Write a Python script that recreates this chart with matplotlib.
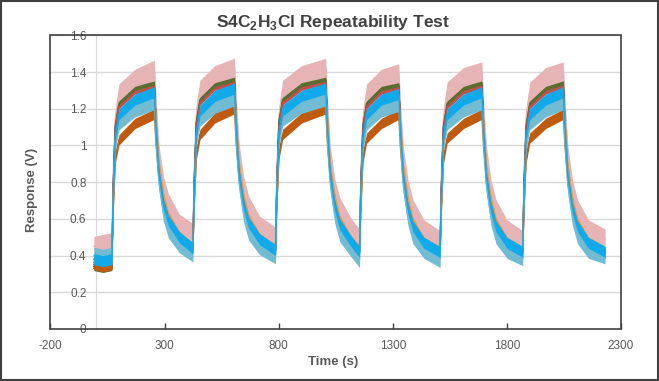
import matplotlib
matplotlib.use("Agg")
import matplotlib.pyplot as plt
from matplotlib.patches import Rectangle

plt.rcParams["font.family"] = ["Liberation Sans Narrow", "Liberation Sans", "DejaVu Sans"]
plt.rcParams["axes.unicode_minus"] = False

# key time points (s): start, then per cycle rise..fall..decay, then end
time_s = [-10, 30,
          69, 75, 84, 100, 170, 255, 263, 275, 295, 317, 365,
          424, 430, 439, 455, 520, 606, 614, 626, 646, 668, 716,
          786, 792, 801, 817, 900, 1006, 1014, 1026, 1046, 1068, 1116,
          1154, 1160, 1169, 1185, 1250, 1326, 1334, 1346, 1366, 1388, 1436,
          1507, 1513, 1522, 1538, 1610, 1690, 1698, 1710, 1730, 1752, 1800,
          1869, 1875, 1884, 1900, 1970, 2047, 2055, 2067, 2087, 2109, 2157,
          2230]

pink = [0.45, 0.46,
        0.47, 0.85, 1.15, 1.28, 1.36, 1.41, 1.20, 0.95, 0.78, 0.68, 0.57,
        0.52, 0.87, 1.17, 1.30, 1.38, 1.42, 1.21, 0.96, 0.78, 0.67, 0.56,
        0.50, 0.86, 1.16, 1.30, 1.38, 1.42, 1.20, 0.94, 0.76, 0.66, 0.55,
        0.49, 0.85, 1.14, 1.28, 1.36, 1.39, 1.18, 0.94, 0.76, 0.65, 0.54,
        0.48, 0.85, 1.15, 1.29, 1.37, 1.40, 1.19, 0.94, 0.76, 0.65, 0.54,
        0.48, 0.85, 1.15, 1.29, 1.37, 1.40, 1.19, 0.94, 0.76, 0.65, 0.54,
        0.49]

purple = [0.34, 0.33,
          0.34, 0.78, 1.10, 1.22, 1.30, 1.33, 1.12, 0.88, 0.71, 0.62, 0.51,
          0.45, 0.80, 1.12, 1.24, 1.32, 1.35, 1.13, 0.88, 0.71, 0.61, 0.50,
          0.44, 0.80, 1.12, 1.24, 1.32, 1.35, 1.12, 0.87, 0.70, 0.60, 0.49,
          0.43, 0.78, 1.10, 1.22, 1.30, 1.32, 1.10, 0.86, 0.69, 0.59, 0.48,
          0.42, 0.78, 1.10, 1.22, 1.30, 1.33, 1.11, 0.86, 0.69, 0.59, 0.48,
          0.42, 0.78, 1.10, 1.22, 1.30, 1.33, 1.11, 0.86, 0.69, 0.59, 0.48,
          0.43]

olive = [0.33, 0.32,
         0.33, 0.78, 1.11, 1.23, 1.31, 1.34, 1.12, 0.87, 0.70, 0.60, 0.50,
         0.44, 0.80, 1.13, 1.25, 1.33, 1.36, 1.13, 0.87, 0.70, 0.60, 0.49,
         0.43, 0.80, 1.13, 1.25, 1.33, 1.36, 1.12, 0.86, 0.69, 0.59, 0.48,
         0.42, 0.78, 1.11, 1.23, 1.31, 1.33, 1.10, 0.85, 0.68, 0.58, 0.47,
         0.42, 0.78, 1.11, 1.23, 1.31, 1.34, 1.11, 0.85, 0.68, 0.58, 0.47,
         0.42, 0.78, 1.11, 1.23, 1.31, 1.34, 1.11, 0.85, 0.68, 0.58, 0.47,
         0.42]

red = [0.36, 0.35,
       0.36, 0.77, 1.09, 1.21, 1.29, 1.32, 1.11, 0.86, 0.69, 0.59, 0.50,
       0.44, 0.79, 1.11, 1.23, 1.31, 1.34, 1.12, 0.86, 0.69, 0.59, 0.49,
       0.43, 0.79, 1.11, 1.23, 1.31, 1.34, 1.11, 0.85, 0.68, 0.58, 0.48,
       0.42, 0.77, 1.09, 1.21, 1.29, 1.31, 1.09, 0.84, 0.67, 0.57, 0.47,
       0.42, 0.77, 1.09, 1.21, 1.29, 1.32, 1.10, 0.84, 0.67, 0.57, 0.47,
       0.42, 0.77, 1.09, 1.21, 1.29, 1.32, 1.10, 0.84, 0.67, 0.57, 0.47,
       0.42]

blue = [0.38, 0.37,
        0.38, 0.74, 1.05, 1.17, 1.25, 1.29, 1.08, 0.85, 0.68, 0.59, 0.50,
        0.44, 0.76, 1.07, 1.19, 1.27, 1.31, 1.09, 0.85, 0.68, 0.58, 0.49,
        0.43, 0.76, 1.07, 1.19, 1.27, 1.31, 1.08, 0.84, 0.67, 0.57, 0.48,
        0.42, 0.74, 1.05, 1.17, 1.25, 1.28, 1.06, 0.83, 0.66, 0.56, 0.47,
        0.42, 0.74, 1.05, 1.17, 1.25, 1.29, 1.07, 0.83, 0.66, 0.56, 0.47,
        0.42, 0.74, 1.05, 1.17, 1.25, 1.29, 1.07, 0.83, 0.66, 0.56, 0.47,
        0.42]

orange = [0.37, 0.36,
          0.37, 0.72, 1.03, 1.15, 1.23, 1.27, 1.14, 0.91, 0.73, 0.62, 0.51,
          0.45, 0.74, 1.05, 1.17, 1.25, 1.29, 1.15, 0.91, 0.73, 0.61, 0.50,
          0.44, 0.74, 1.05, 1.17, 1.25, 1.29, 1.14, 0.90, 0.72, 0.60, 0.49,
          0.43, 0.72, 1.03, 1.15, 1.23, 1.26, 1.12, 0.89, 0.71, 0.59, 0.48,
          0.43, 0.72, 1.03, 1.15, 1.23, 1.27, 1.13, 0.89, 0.71, 0.59, 0.48,
          0.43, 0.72, 1.03, 1.15, 1.23, 1.27, 1.13, 0.89, 0.71, 0.59, 0.48,
          0.43]

teal = [0.40, 0.39,
        0.40, 0.72, 1.02, 1.13, 1.20, 1.24, 1.02, 0.80, 0.63, 0.54, 0.46,
        0.41, 0.74, 1.04, 1.15, 1.22, 1.26, 1.03, 0.80, 0.63, 0.53, 0.45,
        0.40, 0.74, 1.04, 1.15, 1.22, 1.26, 1.02, 0.79, 0.62, 0.52, 0.44,
        0.38, 0.72, 1.02, 1.13, 1.20, 1.23, 1.00, 0.78, 0.61, 0.51, 0.43,
        0.38, 0.72, 1.02, 1.13, 1.20, 1.24, 1.01, 0.78, 0.61, 0.51, 0.43,
        0.39, 0.72, 1.02, 1.13, 1.20, 1.24, 1.01, 0.78, 0.61, 0.51, 0.43,
        0.40]

brown = [0.35, 0.34,
         0.35, 0.66, 0.93, 1.03, 1.12, 1.17, 1.00, 0.82, 0.66, 0.57, 0.49,
         0.44, 0.68, 0.95, 1.06, 1.15, 1.20, 1.01, 0.82, 0.66, 0.56, 0.48,
         0.43, 0.68, 0.95, 1.06, 1.15, 1.20, 1.00, 0.81, 0.65, 0.55, 0.47,
         0.42, 0.66, 0.93, 1.04, 1.12, 1.17, 0.98, 0.80, 0.64, 0.54, 0.46,
         0.41, 0.66, 0.93, 1.04, 1.12, 1.17, 0.99, 0.80, 0.64, 0.54, 0.46,
         0.41, 0.66, 0.93, 1.04, 1.12, 1.17, 0.99, 0.80, 0.64, 0.54, 0.46,
         0.41]

x_ticks = [-200, 300, 800, 1300, 1800, 2300]
y_ticks = [0, 0.2, 0.4, 0.6, 0.8, 1, 1.2, 1.4, 1.6]
y_tick_labels = ["0", "0.2", "0.4", "0.6", "0.8", "1", "1.2", "1.4", "1.6"]

TEXT_C = "#595959"
FRAME_C = "#404040"
GRID_C = "#d9d9d9"

fig = plt.figure(figsize=(6.59, 3.81), dpi=100, facecolor="white")
ax = fig.add_axes([0.0766, 0.1365, 0.8658, 0.7708])

# each trace is noisy, so draw it as a vertical band around its level
# (colour, half band height in V), back to front
traces = [
    (pink, "#e6b4b4", 0.055),
    (purple, "#4a3a5e", 0.012),
    (olive, "#5a6e2e", 0.012),
    (red, "#c0504d", 0.01),
    (orange, "#f79646", 0.02),
    (brown, "#c05a0e", 0.028),
    (teal, "#72bcd3", 0.045),
    (blue, "#10aaea", 0.03),
]
for vals, col, half in traces:
    lo = [v - half for v in vals]
    hi = [v + half for v in vals]
    ax.fill_between(time_s, lo, hi, color=col, linewidth=0, zorder=3)
    ax.plot(time_s, vals, color=col, linewidth=1.0, zorder=3)

ax.set_xlim(-200, 2300)
ax.set_ylim(0, 1.6)
ax.set_xticks(x_ticks)
ax.set_yticks(y_ticks)
ax.set_yticklabels(y_tick_labels)

ax.grid(axis="y", color=GRID_C, linewidth=1.0)
ax.set_axisbelow(True)

# value axis sits at x = 0, the plot frame is drawn separately
ax.spines["left"].set_position(("data", 0))
ax.spines["left"].set_color(GRID_C)
ax.spines["left"].set_zorder(1)
for side in ("top", "right", "bottom"):
    ax.spines[side].set_visible(False)
ax.add_patch(Rectangle((0, 0), 1, 1, transform=ax.transAxes, fill=False,
                       edgecolor=FRAME_C, linewidth=1.2, zorder=5, clip_on=False))

ax.tick_params(axis="y", length=0, pad=7, labelsize=8.5, labelcolor=TEXT_C)
ax.tick_params(axis="x", direction="in", length=4, width=1, color=FRAME_C,
               pad=8, labelsize=8.5, labelcolor=TEXT_C)

fig.text(333 / 659, 1 - 22 / 381, r"S4C$_\mathregular{2}$H$_\mathregular{3}$Cl Repeatability Test",
         ha="center", va="center", fontsize=12.5, fontweight="bold", color="#404040")
fig.text(333 / 659, 1 - 362 / 381, "Time (s)", ha="center", va="center",
         fontsize=9.5, fontweight="bold", color=TEXT_C)
fig.text(32 / 659, 1 - 190 / 381, "Response (V)", ha="center", va="center",
         rotation=90, fontsize=9.5, fontweight="bold", color=TEXT_C)

# outer chart border
fig.add_artist(Rectangle((0.001, 0.002), 0.997, 0.995, transform=fig.transFigure,
                         fill=False, edgecolor=FRAME_C, linewidth=1.5))

fig.savefig("out.png", dpi=100, facecolor="white")
